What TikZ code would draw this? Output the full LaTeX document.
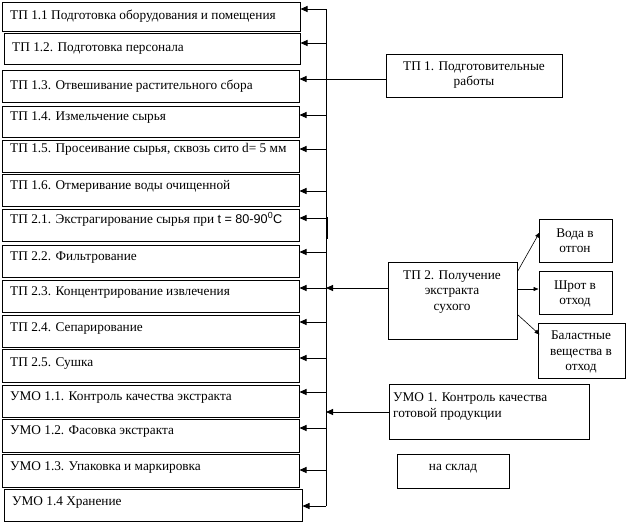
\documentclass[tikz,border=0pt]{standalone}
\usepackage{fontspec}
\setmainfont{Liberation Serif}
\newfontfamily\sansf[Scale=0.95]{Liberation Sans}
\usetikzlibrary{arrows.meta,fit,calc}
\newcommand\leftbox[8]{%
  \node[boxst, fit={(#2,#3)(#4,#5)}] (#1) {};
  \node[ltext] (#1t) at (#2+8,#7) {#8};
  \coordinate (#1p) at (326,#6);
  \draw[arr] (#1p) -- (#1p -| #1.east);
}
\begin{document}
\begin{tikzpicture}[x=1pt,y=-1pt,
  font=\fontsize{13.3}{15.5}\selectfont,
  boxst/.style={draw, line width=1pt, inner sep=0pt, rectangle},
  ltext/.style={anchor=west, inner sep=0pt},
  ctext/.style={align=center, inner sep=0pt},
  link/.style={line width=0.9pt},
  arr/.style={link, -{Triangle[length=7pt,width=6pt]}},
  thinarr/.style={line width=0.6pt, -{Triangle[length=5pt,width=4pt]}}]
\useasboundingbox (0,0) rectangle (626,523);

\leftbox{b1}{2}{2}{300}{31}{9}{16}{ТП 1.1 Подготовка оборудования и помещения}
\leftbox{b2}{4}{33}{300}{64}{43}{49}{ТП 1.2. Подготовка персонала}
\leftbox{b3}{2}{70}{299}{102}{79}{86}{ТП 1.3. Отвешивание растительного сбора}
\leftbox{b4}{2}{106}{299}{137}{115}{118}{ТП 1.4. Измельчение сырья}
\leftbox{b5}{2}{140}{299}{172}{149}{149}{ТП 1.5. Просеивание сырья, сквозь сито d= 5 мм}
\leftbox{b6}{2}{174}{299}{206}{191}{186}{ТП 1.6. Отмеривание воды очищенной}
\leftbox{b7}{2}{209}{299}{241}{218}{219}{ТП 2.1. Экстрагирование сырья при {\sansf t = 80-90\textsuperscript{0}C}}
\leftbox{b8}{2}{245}{299}{277}{252}{258}{ТП 2.2. Фильтрование}
\leftbox{b9}{2}{280}{299}{312}{288}{293}{ТП 2.3. Концентрирование извлечения}
\leftbox{b10}{2}{315}{299}{347}{322}{329}{ТП 2.4. Сепарирование}
\leftbox{b11}{2}{349}{299}{382}{358}{364}{ТП 2.5. Сушка}
\leftbox{b12}{2}{385}{299}{417}{392}{398}{УМО 1.1. Контроль качества экстракта}
\leftbox{b13}{2}{419}{299}{452}{428}{432}{УМО 1.2. Фасовка экстракта}
\leftbox{b14}{2}{454}{299}{487}{470}{468}{УМО 1.3. Упаковка и маркировка}
\leftbox{b15}{4}{489}{302}{521}{506}{503}{УМО 1.4 Хранение}

% bus
\draw[link] (b1p) -- (b15p);
\draw[line width=2pt] ($(b7p)+(1,-1)$) -- ($(b7p)+(1,21)$);

% right boxes
\node[boxst, fit={(386,54)(562,97)}] (tp1) {};
\node[ctext] (tp1t) at (474,75) {ТП 1. Подготовительные\\работы};
\node[boxst, fit={(388,262)(517,339)}] (tp2) {};
\node[ctext] (tp2t) at (452,292) {ТП 2. Получение\\экстракта\\сухого};
\node[boxst, fit={(539,219)(612,262)}] (voda) {};
\node[ctext] (vodat) at (575,240.5) {Вода в\\отгон};
\node[boxst, fit={(539,271)(612,314)}] (shrot) {};
\node[ctext] (shrott) at (575,294) {Шрот в\\отход};
\node[boxst, fit={(538,323)(625,378)}] (ball) {};
\node[ctext] (ballt) at (581,352) {Баластные\\вещества в\\отход};
\node[boxst, fit={(389,384)(589,439)}] (umo) {};
\node[ctext, align=left, anchor=west] (umot) at (393,406.5) {УМО 1. Контроль качества\\готовой продукции};
\node[boxst, fit={(397,454)(509,488)}] (sklad) {};
\node[ctext] (skladt) at (453,469) {на склад};

% connectors into bus
\draw[link] (tp1.west |- b3p) -- (b3p);
\draw[arr] (tp2.west |- b9p) -- (b9p);
\coordinate (q) at (326,412);
\draw[arr] (umo.west |- q) -- (q);

% outputs of TP2
\draw[thinarr] ($(tp2.north east)+(0,10)$) -- ($(voda.north west)+(1,14)$);
\draw[thinarr] ($(tp2.east |- b9p)+(0,1)$) -- ($(shrot.west |- b9p)+(0,1)$);
\draw[thinarr] ($(tp2.north east)+(0,53)$) -- ($(ball.north west)+(2,12)$);
\end{tikzpicture}
\end{document}
